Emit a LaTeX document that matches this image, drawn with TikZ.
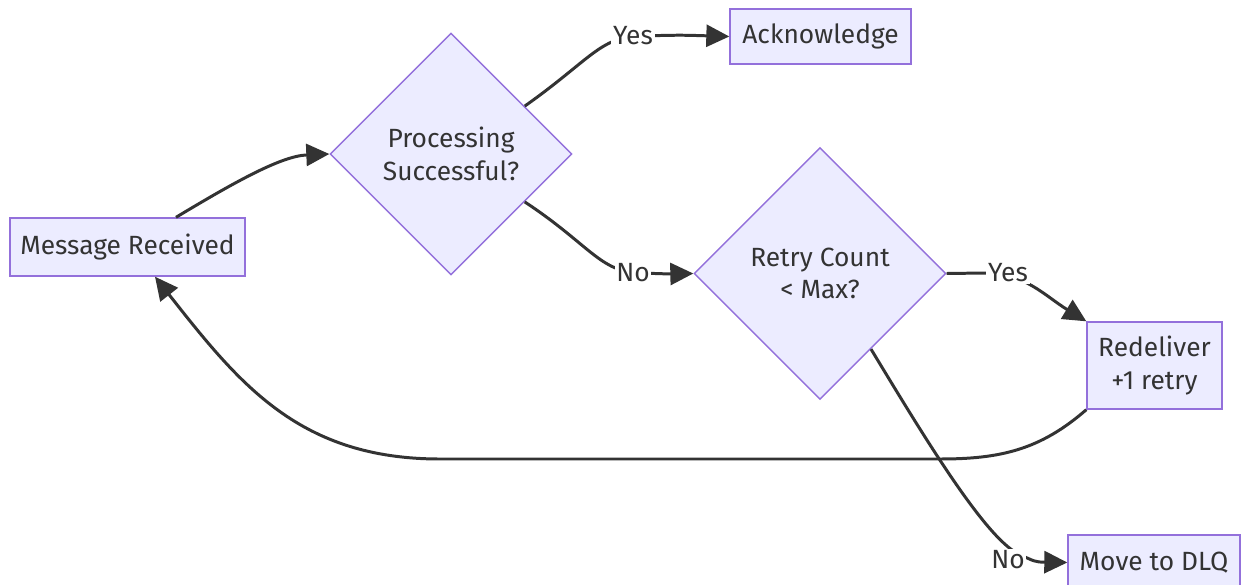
\documentclass[tikz,border=0pt]{standalone}
\usepackage{fontspec}
\setmainfont{Fira Sans}
\usetikzlibrary{shapes.geometric,arrows.meta,calc}
\definecolor{nodefill}{HTML}{ECECFF}
\definecolor{nodeline}{HTML}{9370DB}
\definecolor{ink}{HTML}{333333}
\begin{document}
\begin{tikzpicture}[x=0.02cm,y=-0.02cm,
  font=\fontsize{15}{18.5}\selectfont, text=ink,
  box/.style={draw=nodeline,fill=nodefill,line width=0.8pt,inner sep=0pt,align=center},
  decision/.style={diamond,draw=nodeline,fill=nodefill,line width=0.8pt,inner sep=0pt,align=center},
  conn/.style={draw=ink,line width=1.7pt,-{Triangle[length=0.46cm,width=0.44cm]}},
  lbl/.style={fill=white,inner sep=1pt,text=ink}]
\useasboundingbox (0,0) rectangle (1242,585);
\node[box,minimum width=4.7cm,minimum height=1.16cm] (mr) at (127.5,247) {Message Received};
\node[decision,minimum width=4.84cm,minimum height=4.84cm] (ps) at (451,154) {Processing\\Successful?};
\node[box,minimum width=3.62cm,minimum height=1.1cm] (ack) at (820.5,36.5) {Acknowledge};
\node[decision,minimum width=5.04cm,minimum height=5.04cm] (rc) at (820,273.5) {Retry Count\\< Max?};
\node[box,minimum width=2.7cm,minimum height=1.74cm] (rd) at (1154.5,365.5) {Redeliver\\+1 retry};
\node[box,minimum width=3.44cm,minimum height=1.1cm] (dlq) at (1154,562.5) {Move to DLQ};

\draw[conn] ($(mr.north)+(48.5,0)$) .. controls (230,185) and (280,156) .. (ps.west);
\draw[conn] (ps.33) .. controls (590,60) and (600,37) .. (640,36) .. controls (680,35) .. (ack.west);
\node[lbl] (l1) at (633,36) {Yes};
\draw[conn] (ps.-33) .. controls (590,245) and (600,272) .. (640,273) .. controls (670,274) .. (rc.west);
\node[lbl] (l2) at (633,273) {No};
\draw[conn] (rc.east) -- (985,273) .. controls (1025,273) and (1045,296) .. (rd.north west);
\node[lbl] (l3) at (1008,273) {Yes};
\draw[conn] (rc.-56) .. controls (920,430) and (980,530) .. (1015,552) .. controls (1035,562) .. (dlq.west);
\node[lbl] (l4) at (1008,560) {No};
\draw[conn] (rd.south west) .. controls (1040,450) and (1000,459) .. (940,459) -- (440,459) .. controls (300,459) and (240,385) .. ($(mr.south)+(27.5,0)$);
\end{tikzpicture}
\end{document}
